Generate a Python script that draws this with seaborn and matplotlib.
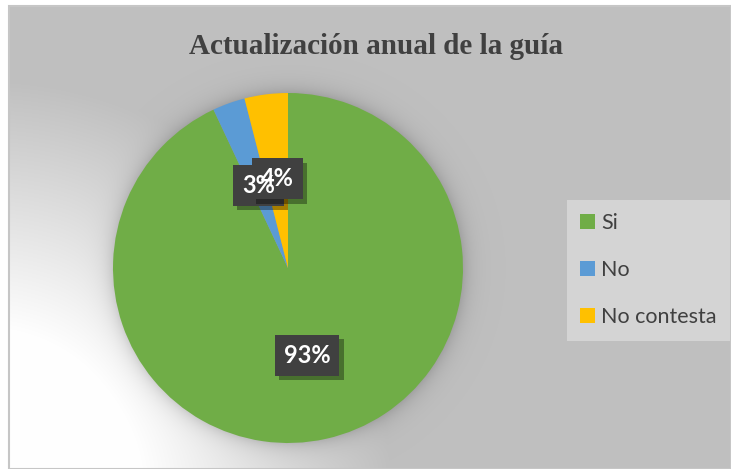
import numpy as np
import matplotlib
matplotlib.use("Agg")
import matplotlib.pyplot as plt
import matplotlib.patheffects as pe
from matplotlib.patches import Rectangle, Patch
import seaborn as sns

# data
categories = ["Si", "No", "No contesta"]
values = [93, 3, 4]
colors = sns.color_palette(["#70AD47", "#5B9BD5", "#FFC000"])
title = "Actualización anual de la guía"

sns.set_theme(style="white")
plt.rcParams["font.family"] = ["Lato", "DejaVu Sans"]

W, H = 731, 469
fig = plt.figure(figsize=(W / 100, H / 100), dpi=100)
fig.patch.set_facecolor("white")

# chart area background: grey with a white glow in the lower left corner
bw, bh = W - 9, H - 6
bg = fig.add_axes([9 / W, 0, bw / W, bh / H])
yy, xx = np.mgrid[0:bh, 0:bw]
r = np.hypot(xx + 9 + 20, yy + 6 - H - 21)
t = np.clip((r - 160) / 250, 0, 1)
img = 1.0 - t * (1.0 - 0.75)
# soft shadow around the pie
pr = np.hypot(xx + 9 - 288, yy + 6 - 268)
img = img * (1 - 0.2 * np.exp(-np.clip(pr - 172, 0, None) / 9))
bg.imshow(np.dstack([img, img, img]), aspect="auto", extent=[0, 1, 0, 1], origin="upper")
bg.set_axis_off()
fig.add_artist(Rectangle((9 / W, 0), bw / W, bh / H, transform=fig.transFigure,
                         fill=False, edgecolor="#C6C6C6", linewidth=1.5))

# pie
ax = fig.add_axes([113 / W, 26 / H, 350 / W, 350 / H])
wedges, texts, autotexts = ax.pie(values, colors=colors, startangle=90, counterclock=False,
                                  autopct="%1.0f%%", pctdistance=0.5,
                                  wedgeprops=dict(linewidth=0))
ax.set_xlim(-1, 1)
ax.set_ylim(-1, 1)
ax.set_axis_off()

# label boxes go under all label texts (like the original, where "3%" shows over the 4% box)
nudges = [(0.0, -0.01), (0.0, 0.0), (0.003, 0.013)]
for i, (t_, (dx, dy)) in enumerate(zip(autotexts, nudges)):
    x, y = t_.get_position()
    t_.set_position((x + dx, y + dy))
    t_.set_color("white")
    t_.set_fontweight("bold")
    t_.set_fontsize(17)
    t_.set_zorder(10)
    box = ax.text(x + dx, y + dy, t_.get_text(), ha="center", va="center", fontsize=17,
                  fontweight="bold", color="none", zorder=3 + i)
    box.set_bbox(dict(boxstyle="square,pad=0.38", facecolor="#404040", edgecolor="none"))
    box.get_bbox_patch().set_path_effects([pe.SimplePatchShadow(offset=(3, -3), shadow_rgbFace="#000000", alpha=0.35), pe.Normal()])

fig.text(376 / W, 1 - 47 / H, title, ha="center", va="center", fontsize=21,
         fontweight="bold", color="#404040", family=["Liberation Serif", "DejaVu Serif"])

handles = [Patch(facecolor=c, edgecolor="none") for c in colors]
leg = fig.legend(handles, categories, loc="upper left", bbox_to_anchor=(567 / W, 1 - 200 / H),
                 frameon=True, fancybox=False, fontsize=15.5, labelspacing=1.25,
                 handlelength=0.68, handleheight=0.68, handletextpad=0.3,
                 borderpad=0.62, borderaxespad=0)
leg.get_frame().set_facecolor("#D4D4D4")
leg.get_frame().set_edgecolor("none")
leg.get_frame().set_alpha(1)
for t_ in leg.get_texts():
    t_.set_color("#404040")

fig.savefig("out.png", dpi=100)
